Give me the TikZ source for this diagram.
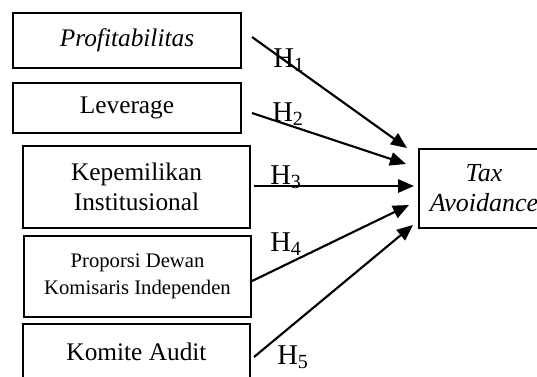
\documentclass[tikz,border=0pt]{standalone}
\usepackage{fontspec}
\setmainfont{Liberation Serif}
\usetikzlibrary{arrows.meta}
\begin{document}
\begin{tikzpicture}[x=0.75pt,y=-0.75pt,
 box/.style={draw, line width=1.1pt, inner sep=0pt, align=center, font=\fontsize{19}{22.5}\selectfont},
 arr/.style={line width=1.6pt, -{Triangle[length=12pt,width=10pt]}},
 hl/.style={font=\fontsize{21.5}{24}\selectfont, inner sep=0pt, anchor=base west}]
\useasboundingbox (0,0) rectangle (537,376);
\clip (0,0) rectangle (537,376);
\node[box, minimum width=171pt, minimum height=41.25pt] (p1) at (127,40.5) {\itshape Profitabilitas};
\node[box, minimum width=171pt, minimum height=37.5pt] (p2) at (127,108) {Leverage};
\node[box, minimum width=170.25pt, minimum height=61.5pt] (p3) at (136.5,187) {Kepemilikan\\Institusional};
\node[box, minimum width=170.25pt, minimum height=60.75pt, font=\fontsize{15.5}{20}\selectfont] (p4) at (137.5,276.5) {Proporsi Dewan\\Komisaris Independen};
\node[box, minimum width=170.25pt, minimum height=42pt] (p5) at (136.5,352) {Komite Audit};
\node[box, minimum width=97.5pt, minimum height=59.25pt, font=\fontsize{19.5}{22.5}\selectfont\itshape] (ta) at (484,188.5) {Tax\\Avoidance};
\coordinate (s1) at (252,37);  \coordinate (e1) at (407,148);
\coordinate (s2) at (252,113); \coordinate (e2) at (406,164);
\coordinate (s3) at (254,186); \coordinate (e3) at (414,186);
\coordinate (s4) at (250,282); \coordinate (e4) at (409,205);
\coordinate (s5) at (254,357); \coordinate (e5) at (413,225);
\draw[arr] (s1) -- (e1);
\draw[arr] (s2) -- (e2);
\draw[arr] (s3) -- (e3);
\draw[arr] (s4) -- (e4);
\draw[arr] (s5) -- (e5);
\node[hl] (h1) at (273,67) {H\textsubscript{1}};
\node[hl] (h2) at (272,121) {H\textsubscript{2}};
\node[hl] (h3) at (270,184) {H\textsubscript{3}};
\node[hl] (h4) at (270,251) {H\textsubscript{4}};
\node[hl] (h5) at (277,364) {H\textsubscript{5}};
\end{tikzpicture}
\end{document}
